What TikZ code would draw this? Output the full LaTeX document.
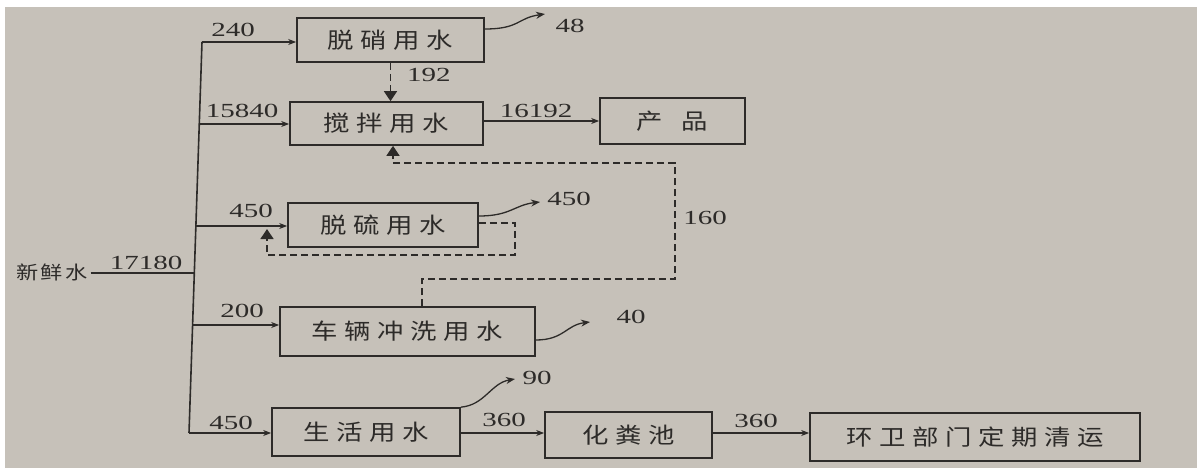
\documentclass[tikz,border=0pt]{standalone}
\usepackage{fontspec}
\setmainfont[FakeStretch=1.45]{Liberation Serif}
\newfontfamily\cjk[FakeStretch=1.2,LetterSpace=30]{Noto Sans CJK SC}
\newfontfamily\cjksmall[FakeStretch=1.2,LetterSpace=12]{Noto Sans CJK SC}
\usetikzlibrary{arrows.meta}
\definecolor{paper}{RGB}{198,193,185}
\definecolor{ink}{RGB}{45,43,41}
\tikzset{
  box/.style={draw=ink, line width=1.7pt, inner sep=0pt, text=ink,
    font=\cjk\fontsize{22}{22}\selectfont},
  num/.style={font=\fontsize{20}{20}\selectfont, text=ink, inner sep=1pt},
  flow/.style={draw=ink, line width=1.4pt, -{Stealth[length=8pt,width=6pt]}},
  evap/.style={draw=ink, line width=1.3pt, -{Stealth[length=9pt,width=7pt]}},
  recyc/.style={draw=ink, line width=1.4pt, dash pattern=on 7pt off 4pt,
    -{Triangle[length=10pt,width=13pt]}},
  trunk/.style={draw=ink, line width=1.6pt},
}
\begin{document}
\begin{tikzpicture}[x=1pt,y=-1pt]
\useasboundingbox (0,0) rectangle (1197,468);
\fill[white] (0,0) rectangle (1197,468);
\fill[paper] (5,7) rectangle (1197,468);

% boxes
\node[box, minimum width=187pt, minimum height=44pt] (dx) at (390.5,40) {脱硝用水};
\node[box, minimum width=193pt, minimum height=43pt] (jb) at (386.5,123.5) {搅拌用水};
\node[box, minimum width=145pt, minimum height=46pt] (cp) at (672.5,121) {产\hspace{0.85em}品};
\node[box, minimum width=190pt, minimum height=44pt] (ds) at (383,225) {脱硫用水};
\node[box, minimum width=255pt, minimum height=49pt] (cl) at (407.5,331.5) {车辆冲洗用水};
\node[box, minimum width=188pt, minimum height=48pt] (sh) at (366,432) {生活用水};
\node[box, minimum width=167pt, minimum height=46pt] (hf) at (628.5,435) {化粪池};
\node[box, minimum width=330pt, minimum height=48pt] (hw) at (975,437) {环卫部门定期清运};

% fresh water and trunk
\node[text=ink, inner sep=3pt, font=\cjksmall\fontsize{18.5}{18.5}\selectfont] (nx) at (52,272) {新鲜水};
\coordinate (t1) at (202,42);
\coordinate (t2) at (199,124);
\coordinate (t3) at (196,226);
\coordinate (t0) at (194.5,273);
\coordinate (t4) at (193,325);
\coordinate (t5) at (189,433);
\draw[trunk] (t1) -- (t5);
\draw[trunk] (nx.east |- t0) -- (t0);
\node[num] (n17180) at (146,263) {17180};

% branches
\draw[flow] (t1) -- (t1 -| dx.west);
\draw[flow] (t2) -- (t2 -| jb.west);
\draw[flow] (t3) -- (t3 -| ds.west);
\draw[flow] (t4) -- (t4 -| cl.west);
\draw[flow] (t5) -- (t5 -| sh.west);
\node[num] (n240) at (233,30) {240};
\node[num] (n15840) at (242,111) {15840};
\node[num] (n450a) at (251,211) {450};
\node[num] (n200) at (242,311) {200};
\node[num] (n450b) at (231,423) {450};

% product and sewage flows
\draw[flow] (jb.east |- cp.west) -- (cp.west);
\node[num] (n16192) at (536,111) {16192};
\draw[flow] (sh.east |- 0,433) -- (hf.west |- 0,433);
\node[num] (n360a) at (504,420) {360};
\draw[flow] (hf.east |- 0,433) -- (hw.west |- 0,433);
\node[num] (n360b) at (756,421) {360};

% evaporation / losses
\coordinate (e48) at (545,14);
\draw[evap] ([yshift=11pt]dx.east) .. controls +(35,0) and +(-28,4) .. (e48);
\node[num] (n48) at (570,26) {48};
\coordinate (e450) at (540,202);
\draw[evap] ([yshift=9pt]ds.east) .. controls +(32,0) and +(-26,3) .. (e450);
\node[num] (n450c) at (569,199) {450};
\coordinate (e40) at (590,322);
\draw[evap] ([yshift=-8.5pt]cl.east) .. controls +(28,0) and +(-24,3) .. (e40);
\node[num] (n40) at (631,317) {40};
\coordinate (e90) at (515,379);
\draw[evap] (sh.north east) .. controls +(24,-2) and +(-24,4) .. (e90);
\node[num] (n90) at (537,378) {90};

% recycled water (dashed)
\draw[recyc] (dx.south) -- (dx.south |- jb.north);
\node[num, anchor=west] (n192) at (406,75) {192};

\coordinate (clout) at ([xshift=14.5pt]cl.north);
\coordinate (r1) at (675,279);
\coordinate (r2) at (393,163);
\coordinate (jbin) at ([xshift=6.5pt]jb.south);
\draw[recyc] (clout) |- (r1) |- (r2) -- (jbin);
\node[num] (n160) at (705,218) {160};

\coordinate (dsout) at ([yshift=2pt]ds.east);
\coordinate (q1) at (515,255);
\coordinate (q2) at (267,229);
\draw[recyc] (dsout) -| (q1) -| (q2);
\end{tikzpicture}
\end{document}
